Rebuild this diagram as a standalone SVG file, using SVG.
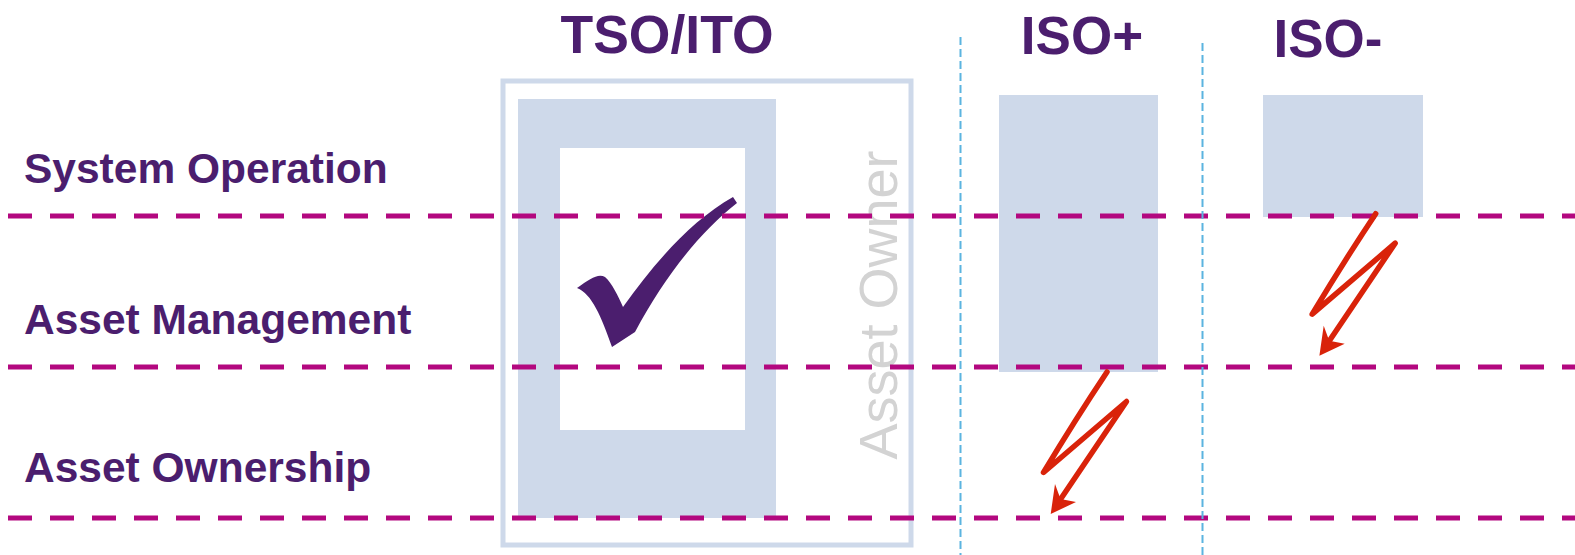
<svg xmlns="http://www.w3.org/2000/svg" width="1575" height="555" viewBox="0 0 1575 555">
<style>
.lbl{font-family:"Liberation Sans",Arial,sans-serif;font-weight:bold;fill:#4B1E6E}
.row{stroke:#B3087F;stroke-width:5;stroke-dasharray:24 18;fill:none}
.col{stroke:#5BB4E0;stroke-width:2;stroke-dasharray:8 4;fill:none}
.box{fill:#CED9EA}
.bolt{fill:none;stroke:#D9230A;stroke-width:5.5;stroke-linejoin:round;stroke-linecap:round}
.head{fill:#D9230A}
</style>
<rect width="1575" height="555" fill="#ffffff"/>
<g id="tso">
<rect x="503" y="81" width="408" height="464" fill="none" stroke="#CED9EA" stroke-width="5"/>
<rect class="box" x="518" y="99" width="258" height="419"/>
<rect x="560" y="148" width="185" height="282" fill="#ffffff"/>
<path d="M577,288 C590,279 598,273 605,277 C612,283 618,296 623,307 C655,262 692,220 733,197 L737,203 C700,232 665,276 635,332 L612,347 C601,316 592,294 577,288 Z" fill="#4B1E6E"/>
<text x="897" y="305" transform="rotate(-90 897 305)" text-anchor="middle" font-family="'Liberation Sans',Arial,sans-serif" font-size="54" fill="#D3D3D3">Asset Owner</text>
</g>
<g id="isoplus">
<rect class="box" x="999" y="95" width="159" height="277"/>
</g>
<g id="isominus">
<rect class="box" x="1263" y="95" width="160" height="122"/>
</g>
<g id="grid">
<line class="row" x1="8" y1="216" x2="1575" y2="216"/>
<line class="row" x1="8" y1="367" x2="1575" y2="367"/>
<line class="row" x1="8" y1="518" x2="1575" y2="518"/>
<line class="col" x1="960.5" y1="37" x2="960.5" y2="555"/>
<line class="col" x1="1202.5" y1="43" x2="1202.5" y2="555"/>
</g>
<g id="headers">
<text class="lbl" x="667" y="52.5" font-size="53.5" text-anchor="middle">TSO/ITO</text>
<text class="lbl" x="1082" y="54" font-size="53" text-anchor="middle">ISO+</text>
<text class="lbl" x="1328" y="57" font-size="53" text-anchor="middle">ISO-</text>
</g>
<g id="rows">
<text class="lbl" x="24" y="182.5" font-size="42.5">System Operation</text>
<text class="lbl" x="24" y="333.5" font-size="42.5">Asset Management</text>
<text class="lbl" x="24" y="482" font-size="42.5">Asset Ownership</text>
</g>
<g id="connectors">
<g id="bolt1">
<path class="bolt" d="M1107,372 Q1075,420 1043.5,472.5 L1126.5,401.5 L1058,503"/>
<path class="head" d="M1050.7,514 L1055,484 L1060.5,499 L1076,502 Z"/>
</g>
<g id="bolt2" transform="translate(268.7,-158.3)">
<path class="bolt" d="M1107,372 Q1075,420 1043.5,472.5 L1126.5,401.5 L1058,503"/>
<path class="head" d="M1050.7,514 L1055,484 L1060.5,499 L1076,502 Z"/>
</g>
</g>
</svg>
